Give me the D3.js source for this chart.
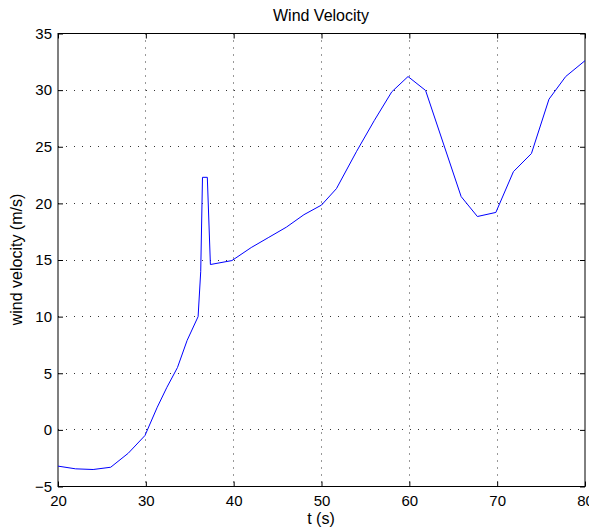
<!DOCTYPE html>
<html>
<head>
<meta charset="utf-8">
<script src="https://cdn.jsdelivr.net/npm/d3@7"></script>
<style>
  body { margin: 0; background: #fff; }
  svg { display: block; font-family: "Liberation Sans", Arial, sans-serif; }
</style>
</head>
<body>
<svg id="chart"></svg>
<script>
// wind velocity trace
var timeS = [20, 22, 24, 26, 28, 29.9, 31.3, 32.4, 33.6, 34.7, 35.95, 36.25, 36.45, 37.0, 37.35,
             39.8, 42, 44, 46, 48, 50, 51.7, 54, 56, 58, 59.85, 61.85, 65.9, 67.75, 69.85,
             71.85, 73.9, 75.9, 77.8, 80]
var velocity = [-3.2, -3.44, -3.5, -3.3, -2.06, -0.5, 2.0, 3.76, 5.5, 7.9, 10.0, 14.0, 22.3, 22.3, 14.6,
                14.95, 16.1, 17.0, 17.9, 19.0, 19.85, 21.3, 24.6, 27.3, 29.85, 31.2, 29.97, 20.6, 18.84, 19.2,
                22.8, 24.4, 29.2, 31.2, 32.6]
var xTicks = [20, 30, 40, 50, 60, 70, 80]
var yTicks = [-5, 0, 5, 10, 15, 20, 25, 30, 35]

var dimensions = {
    width: 589,
    height: 530,
    margin: { top: 33, bottom: 44, right: 4.5, left: 57.5 }
}

var svg = d3.select("#chart")
    .attr("width", dimensions.width)
    .attr("height", dimensions.height)

var x0 = dimensions.margin.left,
    x1 = dimensions.width - dimensions.margin.right,
    y0 = dimensions.height - dimensions.margin.bottom,
    y1 = dimensions.margin.top

var xScale = d3.scaleLinear().domain([20, 80]).range([x0, x1])
var yScale = d3.scaleLinear().domain([-5, 35]).range([y0, y1])

var g = svg.append("g").attr("transform", "translate(0.5,0.5)")

// dotted grid
g.append("g").selectAll("line.gx")
    .data(xTicks.slice(1, -1))
    .enter().append("line")
    .attr("x1", d => Math.round(xScale(d))).attr("x2", d => Math.round(xScale(d)))
    .attr("y1", y1).attr("y2", y0)
    .attr("stroke", "#333").attr("stroke-width", 1).attr("stroke-dasharray", "1,6")
g.append("g").selectAll("line.gy")
    .data(yTicks.slice(1, -1))
    .enter().append("line")
    .attr("y1", d => Math.round(yScale(d))).attr("y2", d => Math.round(yScale(d)))
    .attr("x1", x0).attr("x2", x1)
    .attr("stroke", "#333").attr("stroke-width", 1).attr("stroke-dasharray", "1,7")

// axes with inward ticks, MATLAB style
var fmt = d => d < 0 ? "\u2212" + Math.abs(d) : String(d)
var xAxisgen = d3.axisBottom(xScale).tickValues(xTicks).tickSizeInner(-5).tickSizeOuter(0).tickPadding(9).tickFormat(fmt)
var yAxisgen = d3.axisLeft(yScale).tickValues(yTicks).tickSizeInner(-5).tickSizeOuter(0).tickPadding(6).tickFormat(fmt)

var xAxis = g.append("g")
    .attr("transform", "translate(0," + y0 + ")")
    .call(xAxisgen)
var yAxis = g.append("g")
    .attr("transform", "translate(" + x0 + ",0)")
    .call(yAxisgen)

// mirrored ticks on top and right, no labels
g.append("g").attr("transform", "translate(0," + y1 + ")")
    .call(d3.axisTop(xScale).tickValues(xTicks).tickSizeInner(-5).tickSizeOuter(0).tickFormat(""))
    .selectAll(".tick text").remove()
g.append("g").attr("transform", "translate(" + x1 + ",0)")
    .call(d3.axisRight(yScale).tickValues(yTicks).tickSizeInner(-5).tickSizeOuter(0).tickFormat(""))
    .selectAll(".tick text").remove()

g.selectAll(".domain").remove()
g.selectAll(".tick line").attr("stroke", "#000")
g.selectAll(".tick text")
    .attr("fill", "#000")
    .style("font-size", "15px")
    .style("font-family", "'Liberation Sans', Arial, sans-serif")

// box
g.append("rect")
    .attr("x", x0).attr("y", y1)
    .attr("width", x1 - x0).attr("height", y0 - y1)
    .attr("fill", "none").attr("stroke", "#000").attr("stroke-width", 1)

// the series
var line = d3.line()
    .x((d, i) => xScale(timeS[i]))
    .y(d => yScale(d))

g.append("path")
    .datum(velocity)
    .attr("d", line)
    .attr("fill", "none")
    .attr("stroke", "#0000ff")
    .attr("stroke-width", 1)

// labels
svg.append("text")
    .attr("x", (x0 + x1) / 2).attr("y", 21)
    .attr("text-anchor", "middle")
    .style("font-size", "16px")
    .text("Wind Velocity")

svg.append("text")
    .attr("x", (x0 + x1) / 2).attr("y", 524)
    .attr("text-anchor", "middle")
    .style("font-size", "16px")
    .text("t (s)")

svg.append("text")
    .attr("transform", "translate(22," + ((y0 + y1) / 2) + ") rotate(-90)")
    .attr("text-anchor", "middle")
    .style("font-size", "16px")
    .text("wind velocity (m/s)")
</script>
</body>
</html>
